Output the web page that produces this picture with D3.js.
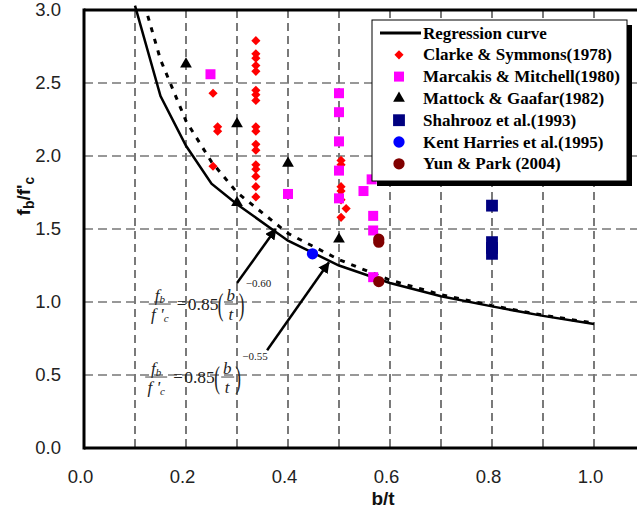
<!DOCTYPE html>
<html><head><meta charset="utf-8">
<script src="https://cdn.jsdelivr.net/npm/d3@7"></script>
<style>body{margin:0;background:#fff}svg{display:block}</style>
</head><body>
<script>
// ---- data ----
const xTicks = [0, 0.2, 0.4, 0.6, 0.8, 1.0];
const yTicks = [0, 0.5, 1.0, 1.5, 2.0, 2.5, 3.0];
const xGrid = [0.1, 0.2, 0.3, 0.4, 0.5, 0.6, 0.7, 0.8, 0.9, 1.0];
const yGrid = [0.5, 1.0, 1.5, 2.0, 2.5];

const regX = [0.1, 0.15, 0.2, 0.25, 0.3, 0.4, 0.5, 0.6, 0.7, 0.8, 0.9, 1.0];
const regY = [3.03, 2.41, 2.07, 1.81, 1.67, 1.42, 1.25, 1.13, 1.04, 0.97, 0.905, 0.85];
const dashX = [0.125, 0.15, 0.2, 0.25, 0.3, 0.4, 0.5, 0.6, 0.7, 0.8, 0.9, 1.0];
const dashY = [2.96, 2.66, 2.24, 1.96, 1.75, 1.47, 1.29, 1.15, 1.05, 0.975, 0.91, 0.855];

const clarkeX = [0.253, 0.253, 0.262, 0.262,
  0.337, 0.337, 0.337, 0.337, 0.337, 0.337, 0.337, 0.337, 0.337, 0.337, 0.337, 0.337, 0.337, 0.337, 0.337, 0.337, 0.337,
  0.504, 0.504, 0.504, 0.504, 0.504, 0.514, 0.504];
const clarkeY = [2.43, 1.93, 2.20, 2.17,
  2.79, 2.70, 2.67, 2.62, 2.58, 2.45, 2.42, 2.38, 2.20, 2.17, 2.08, 2.04, 1.94, 1.91, 1.86, 1.79, 1.72,
  1.97, 1.94, 1.79, 1.76, 1.70, 1.64, 1.58];
const marcakisX = [0.248, 0.5, 0.5, 0.5, 0.5, 0.5, 0.4, 0.548, 0.564, 0.567, 0.567, 0.567];
const marcakisY = [2.56, 2.43, 2.30, 2.10, 1.90, 1.71, 1.74, 1.76, 1.84, 1.59, 1.49, 1.17];
const mattockX = [0.2, 0.3, 0.4, 0.3, 0.5];
const mattockY = [2.63, 2.22, 1.95, 1.68, 1.43];
const shahroozX = [0.8, 0.8, 0.8, 0.8];
const shahroozY = [1.66, 1.41, 1.37, 1.33];
const kentX = [0.448];
const kentY = [1.33];
const yunX = [0.578, 0.578, 0.578];
const yunY = [1.43, 1.41, 1.14];

const legendLabels = ["Regression curve", "Clarke & Symmons(1978)", "Marcakis & Mitchell(1980)",
  "Mattock & Gaafar(1982)", "Shahrooz et al.(1993)", "Kent Harries et al.(1995)", "Yun & Park (2004)"];

// ---- setup ----
const W = 637, H = 517;
const svg = d3.select("body").append("svg").attr("width", W).attr("height", H);
const x = d3.scaleLinear().domain([0, 1.1]).range([84, 645]);
const y = d3.scaleLinear().domain([0, 3]).range([448, 10]);
const sans = "'Liberation Sans', Arial, sans-serif";
const serif = "'Liberation Serif', 'Times New Roman', serif";

// gridlines
svg.append("g").selectAll("line").data(xGrid).join("line")
  .attr("x1", d => x(d)).attr("x2", d => x(d)).attr("y1", y(3)).attr("y2", y(0))
  .attr("stroke", "#333").attr("stroke-width", 1.3).attr("stroke-dasharray", "8,5");
svg.append("g").selectAll("line").data(yGrid).join("line")
  .attr("x1", x(0)).attr("x2", W).attr("y1", d => y(d)).attr("y2", d => y(d))
  .attr("stroke", "#777").attr("stroke-width", 1.5).attr("stroke-dasharray", "9,5");

// curves
const line = d3.line().x(d => x(d[0])).y(d => y(d[1]));
svg.append("path").datum(dashX.map((v, i) => [v, dashY[i]])).attr("d", line)
  .attr("fill", "none").attr("stroke", "#000").attr("stroke-width", 3).attr("stroke-dasharray", "5,7");
svg.append("path").datum(regX.map((v, i) => [v, regY[i]])).attr("d", line)
  .attr("fill", "none").attr("stroke", "#000").attr("stroke-width", 2.5);

// points
function pts(xs, ys, sym, size, color, rot) {
  const g = svg.append("g");
  g.selectAll("path").data(xs.map((v, i) => [v, ys[i]])).join("path")
    .attr("d", d3.symbol().type(sym).size(size))
    .attr("transform", d => `translate(${x(d[0])},${y(d[1])}) rotate(${rot || 0})`)
    .attr("fill", color);
}
pts(clarkeX, clarkeY, d3.symbolSquare, 42, "#ff0000", 45);
pts(marcakisX, marcakisY, d3.symbolSquare, 100, "#ff00ff");
pts(mattockX, mattockY, d3.symbolTriangle, 60, "#000");
pts(shahroozX, shahroozY, d3.symbolSquare, 140, "#000080");
pts(kentX, kentY, d3.symbolCircle, 100, "#0000ff");
pts(yunX, yunY, d3.symbolCircle, 100, "#800000");

// annotations: arrows
const defs = svg.append("defs");
defs.append("marker").attr("id", "ah").attr("viewBox", "0 0 10 10").attr("refX", 9).attr("refY", 5)
  .attr("markerWidth", 4.5).attr("markerHeight", 4.5).attr("orient", "auto")
  .append("path").attr("d", "M0,0L10,5L0,10Z").attr("fill", "#000");
const arrows = [[0.300, 1.13, 0.376, 1.50], [0.359, 0.67, 0.480, 1.27]];
svg.append("g").selectAll("line").data(arrows).join("line")
  .attr("x1", d => x(d[0])).attr("y1", d => y(d[1])).attr("x2", d => x(d[2])).attr("y2", d => y(d[3]))
  .attr("stroke", "#000").attr("stroke-width", 2.5).attr("marker-end", "url(#ah)");

// formulas
function formula(fx, fy, expo) {
  const g = svg.append("g").attr("transform", `translate(${x(fx)},${y(fy)})`)
    .attr("font-family", serif).attr("fill", "#222");
  const num = g.append("text").attr("x", 11).attr("y", -3).attr("text-anchor", "middle")
    .attr("font-size", 17).attr("font-style", "italic");
  num.append("tspan").text("f");
  num.append("tspan").attr("font-size", 11).attr("dy", 2).text("b");
  g.append("line").attr("x1", 0).attr("x2", 22).attr("y1", 0).attr("y2", 0).attr("stroke", "#444").attr("stroke-width", 1);
  const den = g.append("text").attr("x", 11).attr("y", 16).attr("text-anchor", "middle")
    .attr("font-size", 17).attr("font-style", "italic");
  den.append("tspan").text("f '");
  den.append("tspan").attr("font-size", 11).attr("dy", 2).text("c");
  g.append("text").attr("x", 28).attr("y", 5).attr("font-size", 17).text("=");
  g.append("text").attr("x", 39).attr("y", 6).attr("font-size", 17.5).text("0.85");
  g.append("text").attr("transform", "translate(69,11) scale(1,1.85)").attr("font-size", 17).text("(");
  g.append("text").attr("x", 82).attr("y", -3).attr("text-anchor", "middle").attr("font-size", 17).attr("font-style", "italic").text("b");
  g.append("line").attr("x1", 76).attr("x2", 89).attr("y1", 0).attr("y2", 0).attr("stroke", "#444").attr("stroke-width", 1);
  g.append("text").attr("x", 82).attr("y", 16).attr("text-anchor", "middle").attr("font-size", 17).attr("font-style", "italic").text("t");
  g.append("text").attr("transform", "translate(90,11) scale(1,1.85)").attr("font-size", 17).text(")");
  g.append("text").attr("x", 97).attr("y", -17).attr("font-size", 11).text(expo);
}
formula(0.127, 0.986, "\u22120.60");
formula(0.12, 0.486, "\u22120.55");

// legend
const lg = svg.append("g");
lg.append("rect").attr("x", 377).attr("y", 25).attr("width", 255).attr("height", 161).attr("fill", "#000");
lg.append("rect").attr("x", 372).attr("y", 20).attr("width", 255).attr("height", 161).attr("fill", "#fff").attr("stroke", "#000").attr("stroke-width", 1);
const ly = i => 33 + i * 21.8;
lg.append("line").attr("x1", 380).attr("x2", 421).attr("y1", ly(0)).attr("y2", ly(0)).attr("stroke", "#000").attr("stroke-width", 3);
const legSyms = [null,
  [d3.symbolSquare, 42, "#ff0000", 45], [d3.symbolSquare, 100, "#ff00ff", 0], [d3.symbolTriangle, 60, "#000", 0],
  [d3.symbolSquare, 140, "#000080", 0], [d3.symbolCircle, 100, "#0000ff", 0], [d3.symbolCircle, 100, "#800000", 0]];
legSyms.forEach((s, i) => {
  if (!s) return;
  lg.append("path").attr("d", d3.symbol().type(s[0]).size(s[1]))
    .attr("transform", `translate(399,${ly(i)}) rotate(${s[3]})`).attr("fill", s[2]);
});
lg.selectAll("text").data(legendLabels).join("text")
  .attr("x", 423).attr("y", (d, i) => ly(i) + 5.5)
  .attr("font-family", serif).attr("font-weight", "bold").attr("font-size", 17).attr("fill", "#000")
  .text(d => d);

// axes
const ya = svg.append("g").attr("transform", `translate(${x(0)},0)`)
  .call(d3.axisLeft(y).tickValues(yTicks).tickFormat(d3.format(".1f")).tickSize(0).tickPadding(23));
ya.select(".domain").remove();
ya.selectAll("text").attr("font-family", sans).attr("font-size", 18.5).attr("fill", "#222");
const xa = svg.append("g").attr("transform", `translate(-4,${y(0)})`)
  .call(d3.axisBottom(x).tickValues(xTicks).tickFormat(d3.format(".1f")).tickSize(0).tickPadding(22));
xa.select(".domain").remove();
xa.selectAll("text").attr("font-family", sans).attr("font-size", 18.5).attr("fill", "#222");

// frame
svg.append("line").attr("x1", x(0)).attr("x2", x(0)).attr("y1", y(3) - 1.5).attr("y2", y(0) + 1.5).attr("stroke", "#000").attr("stroke-width", 3);
svg.append("line").attr("x1", x(0)).attr("x2", W).attr("y1", y(0)).attr("y2", y(0)).attr("stroke", "#000").attr("stroke-width", 3);
svg.append("line").attr("x1", x(0)).attr("x2", W).attr("y1", y(3)).attr("y2", y(3)).attr("stroke", "#000").attr("stroke-width", 3);

// titles
svg.append("text").attr("x", 383).attr("y", 505).attr("text-anchor", "middle")
  .attr("font-family", sans).attr("font-weight", "bold").attr("font-size", 19).attr("fill", "#111").text("b/t");
const yt = svg.append("text").attr("transform", "translate(30,196) rotate(-90)").attr("text-anchor", "middle")
  .attr("font-family", sans).attr("font-weight", "bold").attr("font-size", 19).attr("fill", "#111");
yt.append("tspan").text("f");
yt.append("tspan").attr("font-size", 14).attr("dy", 4).text("b");
yt.append("tspan").attr("dy", -4).text("/f'");
yt.append("tspan").attr("font-size", 14).attr("dy", 4).text("c");
</script>
</body></html>
